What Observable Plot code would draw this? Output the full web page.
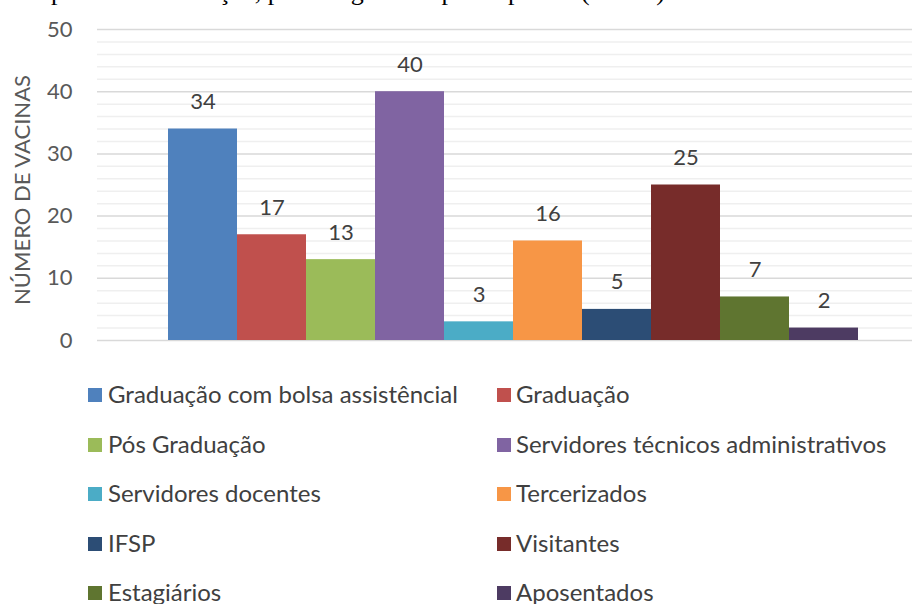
<!DOCTYPE html>
<html><head><meta charset="utf-8">
<script src="https://cdn.jsdelivr.net/npm/d3@7"></script>
<script src="https://cdn.jsdelivr.net/npm/@observablehq/plot@0.6"></script>
<style>
html,body{margin:0;padding:0;background:#fff;}
body{width:912px;height:604px;overflow:hidden;position:relative;}
#title{position:absolute;top:-20px;left:2px;font-family:"Liberation Serif";font-size:26px;line-height:24px;white-space:nowrap;color:#000;}
#chart{position:absolute;top:0;left:0;}
#ytitle{position:absolute;left:22px;top:190px;transform:translate(-50%,-50%) rotate(-90deg);font-family:Lato;font-size:22px;line-height:22px;color:#595959;white-space:nowrap;}
.sw{position:absolute;width:14px;height:14px;}
.lt{position:absolute;font-family:Lato;font-size:24px;line-height:24px;color:#404040;white-space:nowrap;}
</style>
</head><body>
<div id="title">Campanha de vacinação, por categoria de participantes (n=162)</div>
<div id="chart"></div>
<div id="ytitle"></div>
<div id="legend"></div>
<script>
const categories = [
  "Graduação com bolsa assistêncial",
  "Graduação",
  "Pós Graduação",
  "Servidores técnicos administrativos",
  "Servidores docentes",
  "Tercerizados",
  "IFSP",
  "Visitantes",
  "Estagiários",
  "Aposentados"
];
const values = [34, 17, 13, 40, 3, 16, 5, 25, 7, 2];
const colors = ["#4F81BD", "#C0504D", "#9BBB59", "#8064A2", "#4BACC6", "#F79646", "#2C4D75", "#772C2A", "#5F7530", "#4D3B62"];
const majorTicks = [0, 10, 20, 30, 40, 50];
const minorTicks = [2, 4, 6, 8, 12, 14, 16, 18, 22, 24, 26, 28, 32, 34, 36, 38, 42, 44, 46, 48];
const yTitle = "NÚMERO DE VACINAS";

const data = categories.map((c, i) => ({category: c, value: values[i]}));

const chart = Plot.plot({
  width: 912,
  height: 360,
  marginLeft: 97,
  marginRight: 0,
  marginTop: 29,
  marginBottom: 20,
  style: {fontFamily: "Lato", fontSize: "22px", background: "transparent"},
  x: {domain: categories, range: [167, 858], padding: 0, axis: null},
  y: {domain: [0, 50], axis: null},
  color: {domain: categories, range: colors},
  marks: [
    Plot.ruleY(minorTicks, {stroke: "#efefef", strokeWidth: 1.5}),
    Plot.ruleY(majorTicks, {stroke: "#d9d9d9", strokeWidth: 1.5}),
    Plot.barY(data, {x: "category", y: "value", fill: "category"}),
    Plot.text(data, {x: "category", y: "value", text: d => String(d.value), dy: -27, fill: "#404040", fontSize: 22}),
    Plot.axisY({ticks: majorTicks, tickSize: 0, tickPadding: 25, fontSize: 22, fill: "#595959", label: null})
  ]
});
document.getElementById("chart").appendChild(chart);
document.getElementById("ytitle").textContent = yTitle;

const legend = document.getElementById("legend");
const colSw = [88, 497], colTx = [108, 516];
categories.forEach((c, i) => {
  const col = i % 2, row = Math.floor(i / 2);
  const cy = 395 + row * 49.5;
  const sw = document.createElement("div");
  sw.className = "sw";
  sw.style.left = colSw[col] + "px";
  sw.style.top = (cy - 7) + "px";
  sw.style.background = colors[i];
  legend.appendChild(sw);
  const t = document.createElement("div");
  t.className = "lt";
  t.style.left = colTx[col] + "px";
  t.style.top = (cy - 13) + "px";
  t.textContent = c;
  legend.appendChild(t);
});
</script>
</body></html>
